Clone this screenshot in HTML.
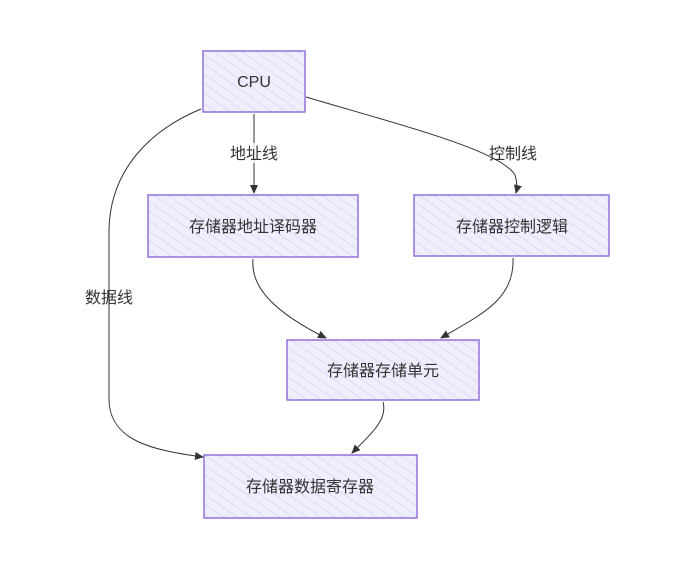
<!DOCTYPE html>
<html><head><meta charset="utf-8"><style>
html,body{margin:0;padding:0;background:#fff;}
text{font-family:"Liberation Sans","Noto Sans CJK SC",sans-serif;font-size:16px;fill:#333;}
</style></head><body>
<svg width="679" height="565" viewBox="0 0 679 565" xmlns="http://www.w3.org/2000/svg">
<defs>
<pattern id="h" width="8" height="8" patternUnits="userSpaceOnUse" patternTransform="rotate(-55)">
<rect width="8" height="8" fill="#eeeefd"/>
<line x1="0" y1="0" x2="0" y2="8" stroke="#ddd8f8" stroke-width="2"/>
</pattern>
<marker id="a" markerWidth="10" markerHeight="10" refX="8" refY="5" orient="auto" markerUnits="userSpaceOnUse">
<path d="M0,1 L9,5 L0,9 z" fill="#333"/>
</marker>
</defs>
<g fill="url(#h)" stroke="#9370DB" stroke-width="1.5">
<rect x="203" y="51" width="102" height="61"/>
<rect x="148" y="195" width="210" height="62"/>
<rect x="414" y="195" width="195" height="61"/>
<rect x="287" y="340" width="192" height="60"/>
<rect x="204" y="455" width="213" height="63"/>
</g>
<g fill="none" stroke="#333" stroke-width="1">
<path d="M254,114 L254,193" marker-end="url(#a)"/>
<path d="M306,97 C400,125 500,150 515,175 Q518,185 516,193" marker-end="url(#a)"/>
<path d="M201,109 C150,130 110,170 109,230 L109,400 C110,440 150,450 203,457" marker-end="url(#a)"/>
<path d="M253,259 C250,290 280,315 326,338" marker-end="url(#a)"/>
<path d="M513,258 C515,300 480,315 441,338" marker-end="url(#a)"/>
<path d="M383,402 C388,420 370,435 352,453" marker-end="url(#a)"/>
</g>
<rect x="225" y="143" width="58" height="20" fill="#fff" opacity="0.8"/>
<text x="254" y="87" text-anchor="middle">CPU</text>
<text x="254" y="159" text-anchor="middle">地址线</text>
<text x="513" y="159" text-anchor="middle">控制线</text>
<text x="109" y="303" text-anchor="middle">数据线</text>
<text x="253" y="232" text-anchor="middle">存储器地址译码器</text>
<text x="512" y="232" text-anchor="middle">存储器控制逻辑</text>
<text x="383" y="376" text-anchor="middle">存储器存储单元</text>
<text x="310" y="492" text-anchor="middle">存储器数据寄存器</text>
</svg>
</body></html>
